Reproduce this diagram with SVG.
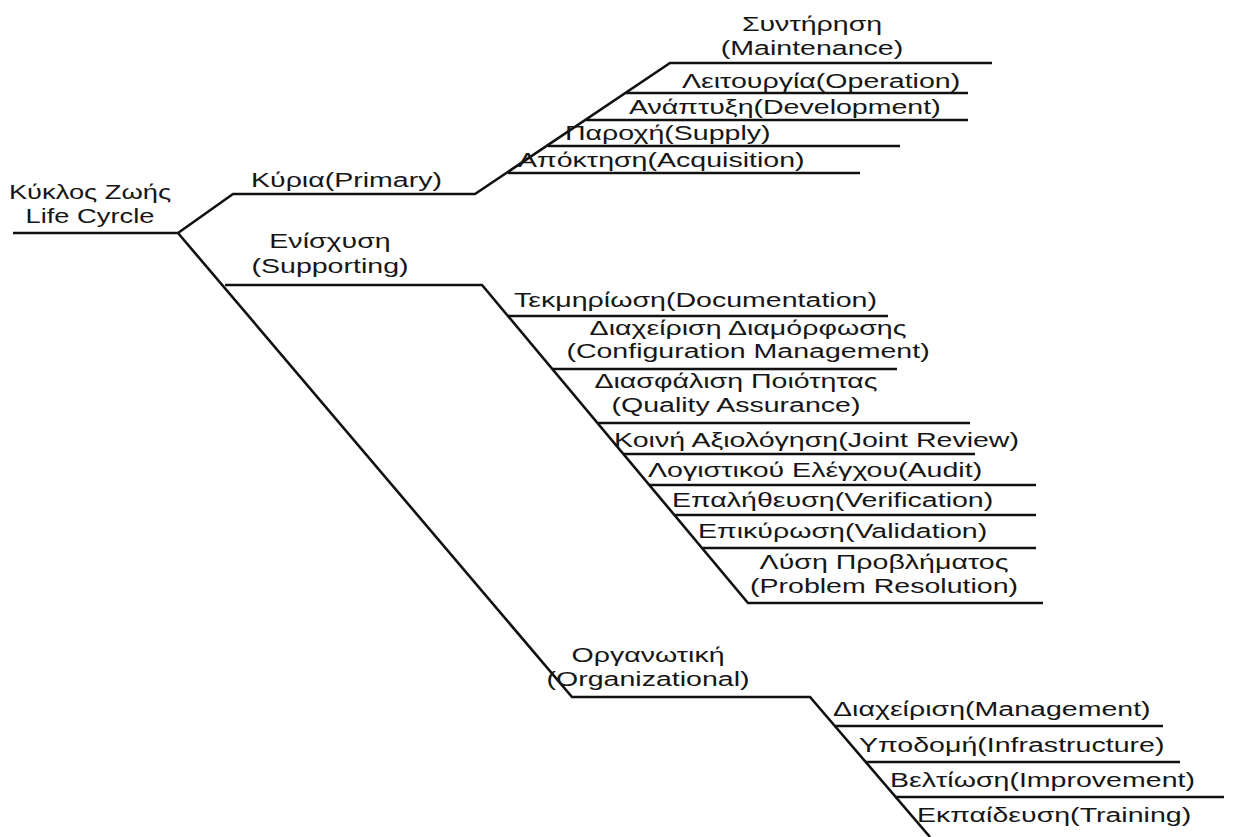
<svg xmlns="http://www.w3.org/2000/svg" width="1236" height="837" viewBox="0 0 1236 837">
  <style>
    .ln { fill: none; stroke: #111; stroke-width: 2.6; stroke-linejoin: miter; stroke-linecap: butt; }
    text { font-family: "Liberation Sans", Arial, sans-serif; font-size: 21px; fill: #161616; }
    .c { text-anchor: middle; }
  </style>
  <rect width="1236" height="837" fill="#fff"/>

  <!-- branch lines -->
  <g id="connectors">
    <!-- root and primary branch -->
    <polyline class="ln" points="13,233 178,233 233,194 475,194 670,63 992,63"/>
    <!-- long spine to organizational -->
    <polyline class="ln" points="178,233 572,697 810,697 930,837"/>
    <!-- supporting branch -->
    <polyline class="ln" points="225,285 482,285 748,603 1043,603"/>
    <!-- primary leaves -->
    <line class="ln" x1="626" y1="93" x2="968" y2="93"/>
    <line class="ln" x1="586" y1="120" x2="968" y2="120"/>
    <line class="ln" x1="548" y1="146" x2="900" y2="146"/>
    <line class="ln" x1="508" y1="173" x2="860" y2="173"/>
    <!-- supporting leaves -->
    <line class="ln" x1="508" y1="316" x2="888" y2="316"/>
    <line class="ln" x1="553" y1="369" x2="897" y2="369"/>
    <line class="ln" x1="598" y1="423" x2="970" y2="423"/>
    <line class="ln" x1="624" y1="454" x2="975" y2="454"/>
    <line class="ln" x1="650" y1="485" x2="1036" y2="485"/>
    <line class="ln" x1="675" y1="515" x2="1036" y2="515"/>
    <line class="ln" x1="703" y1="548" x2="1036" y2="548"/>
    <!-- organizational leaves -->
    <line class="ln" x1="834" y1="726" x2="1163" y2="726"/>
    <line class="ln" x1="865" y1="762" x2="1180" y2="762"/>
    <line class="ln" x1="895" y1="797" x2="1224" y2="797"/>
  </g>

  <!-- labels are drawn with a horizontal stretch of 1.36 -->
  <g id="root">
    <text class="c" transform="translate(90,199) scale(1.3,1)">Κύκλος Ζωής</text>
    <text class="c" transform="translate(90,223) scale(1.3,1)">Life Cyrcle</text>
  </g>

  <g id="primary">
    <text transform="translate(251,187) scale(1.36,1)">Κύρια(Primary)</text>
  </g>
  <g id="maintenance">
    <text class="c" transform="translate(812,31) scale(1.36,1)">Συντήρηση</text>
    <text class="c" transform="translate(812,55) scale(1.36,1)">(Maintenance)</text>
  </g>
  <g id="operation"><text transform="translate(682,88) scale(1.36,1)">Λειτουργία(Operation)</text></g>
  <g id="development"><text transform="translate(629,114) scale(1.36,1)">Ανάπτυξη(Development)</text></g>
  <g id="supply"><text transform="translate(565,140) scale(1.36,1)">Παροχή(Supply)</text></g>
  <g id="acquisition"><text transform="translate(518,167) scale(1.36,1)">Απόκτηση(Acquisition)</text></g>

  <g id="supporting">
    <text class="c" transform="translate(330,248) scale(1.36,1)">Ενίσχυση</text>
    <text class="c" transform="translate(330,273) scale(1.36,1)">(Supporting)</text>
  </g>
  <g id="documentation"><text transform="translate(514,307) scale(1.36,1)">Τεκμηρίωση(Documentation)</text></g>
  <g id="configuration">
    <text class="c" transform="translate(748,335) scale(1.36,1)">Διαχείριση Διαμόρφωσης</text>
    <text class="c" transform="translate(748,358) scale(1.36,1)">(Configuration Management)</text>
  </g>
  <g id="quality">
    <text class="c" transform="translate(736,388) scale(1.36,1)">Διασφάλιση Ποιότητας</text>
    <text class="c" transform="translate(736,412) scale(1.36,1)">(Quality Assurance)</text>
  </g>
  <g id="joint-review"><text transform="translate(614,447) scale(1.36,1)">Κοινή Αξιολόγηση(Joint Review)</text></g>
  <g id="audit"><text transform="translate(648,477) scale(1.36,1)">Λογιστικού Ελέγχου(Audit)</text></g>
  <g id="verification"><text transform="translate(672,507) scale(1.36,1)">Επαλήθευση(Verification)</text></g>
  <g id="validation"><text transform="translate(698,538) scale(1.36,1)">Επικύρωση(Validation)</text></g>
  <g id="problem-resolution">
    <text class="c" transform="translate(884,569) scale(1.36,1)">Λύση Προβλήματος</text>
    <text class="c" transform="translate(884,593) scale(1.36,1)">(Problem Resolution)</text>
  </g>

  <g id="organizational">
    <text class="c" transform="translate(648,662) scale(1.36,1)">Οργανωτική</text>
    <text class="c" transform="translate(648,686) scale(1.36,1)">(Organizational)</text>
  </g>
  <g id="management"><text transform="translate(833,716) scale(1.36,1)">Διαχείριση(Management)</text></g>
  <g id="infrastructure"><text transform="translate(859,752) scale(1.36,1)">Υποδομή(Infrastructure)</text></g>
  <g id="improvement"><text transform="translate(890,787) scale(1.36,1)">Βελτίωση(Improvement)</text></g>
  <g id="training"><text transform="translate(917,822) scale(1.36,1)">Εκπαίδευση(Training)</text></g>
</svg>
